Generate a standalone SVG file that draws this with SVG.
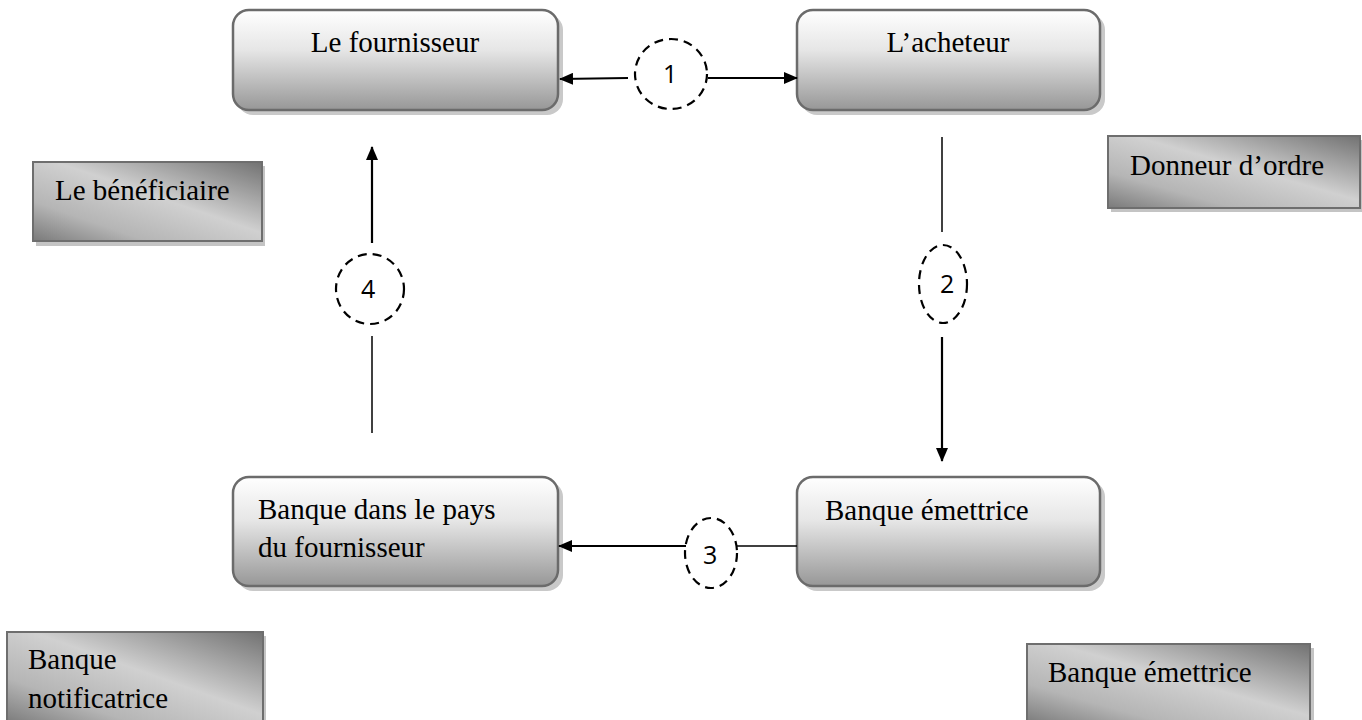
<svg xmlns="http://www.w3.org/2000/svg" width="1362" height="720" viewBox="0 0 1362 720">
<defs>
<linearGradient id="gRound" x1="0" y1="0" x2="0" y2="1">
<stop offset="0" stop-color="#ffffff"/>
<stop offset="0.4" stop-color="#e6e6e6"/>
<stop offset="1" stop-color="#979797"/>
</linearGradient>
<linearGradient id="gSquare" x1="1" y1="0" x2="0" y2="1">
<stop offset="0" stop-color="#727272"/>
<stop offset="0.45" stop-color="#d0d0d0"/>
<stop offset="0.75" stop-color="#b5b5b5"/>
<stop offset="1" stop-color="#7a7a7a"/>
</linearGradient>
<marker id="arrL" markerWidth="14" markerHeight="12" refX="13" refY="6" orient="auto" markerUnits="userSpaceOnUse">
<path d="M0,0 L14,6 L0,12 Z" fill="#000"/>
</marker>
</defs>
<style>
.rbox{fill:url(#gRound);stroke:#6b6b6b;stroke-width:2.5}
.rshadow{fill:#c9c9c9}
.sbox{fill:url(#gSquare);stroke:#6e6e6e;stroke-width:2}
.sshadow{fill:#c4c4c4}
.t{font-family:"Liberation Serif","Times New Roman",serif;font-size:29px;fill:#000}
.num{font-family:"Open Sans","Liberation Sans",sans-serif;font-size:25px;fill:#000}
.circ{fill:none;stroke:#000;stroke-width:2.2;stroke-dasharray:9,6}
.ln{stroke:#000;stroke-width:1.5;fill:none}
.la{stroke:#000;stroke-width:2.2;fill:none}
</style>
<rect width="1362" height="720" fill="#fff"/>

<g id="fournisseur">
<rect class="rshadow" x="237" y="14" width="326" height="101" rx="16"/>
<rect class="rbox" x="233" y="10" width="325" height="100" rx="16"/>
<text class="t" x="395" y="52" text-anchor="middle">Le fournisseur</text>
</g>
<g id="acheteur">
<rect class="rshadow" x="801" y="14" width="304" height="101" rx="16"/>
<rect class="rbox" x="797" y="10" width="303" height="100" rx="16"/>
<text class="t" x="948" y="52" text-anchor="middle">L’acheteur</text>
</g>
<g id="banque-emettrice">
<rect class="rshadow" x="801" y="481" width="304" height="110" rx="16"/>
<rect class="rbox" x="797" y="477" width="303" height="109" rx="16"/>
<text class="t" x="825" y="520">Banque émettrice</text>
</g>
<g id="banque-pays">
<rect class="rshadow" x="237" y="481" width="326" height="110" rx="16"/>
<rect class="rbox" x="233" y="477" width="325" height="109" rx="16"/>
<text class="t" x="258" y="519">Banque dans le pays</text>
<text class="t" x="258" y="557">du fournisseur</text>
</g>

<g id="beneficiaire">
<rect class="sshadow" x="36" y="166" width="229" height="80"/>
<rect class="sbox" x="33" y="162" width="229" height="79"/>
<text class="t" x="55" y="200">Le bénéficiaire</text>
</g>
<g id="donneur">
<rect class="sshadow" x="1111" y="140" width="252" height="72"/>
<rect class="sbox" x="1108" y="136" width="252" height="72"/>
<text class="t" x="1130" y="175">Donneur d’ordre</text>
</g>
<g id="notificatrice">
<rect class="sshadow" x="10" y="636" width="256" height="90"/>
<rect class="sbox" x="7" y="632" width="256" height="92"/>
<text class="t" x="28" y="669">Banque</text>
<text class="t" x="28" y="708">notificatrice</text>
</g>
<g id="emettrice-label">
<rect class="sshadow" x="1030" y="648" width="284" height="80"/>
<rect class="sbox" x="1027" y="644" width="283" height="80"/>
<text class="t" x="1048" y="682">Banque émettrice</text>
</g>

<g id="c1">
<ellipse class="circ" cx="671" cy="74" rx="36" ry="35"/>
<text class="num" x="663" y="83">1</text>
</g>
<g id="c2">
<ellipse class="circ" cx="943" cy="284" rx="24" ry="39"/>
<text class="num" x="940" y="293">2</text>
</g>
<g id="c3">
<ellipse class="circ" cx="711" cy="553" rx="26" ry="35"/>
<text class="num" x="703" y="564">3</text>
</g>
<g id="c4">
<ellipse class="circ" cx="370" cy="289" rx="34" ry="35"/>
<text class="num" x="361" y="298">4</text>
</g>

<g id="connectors">
<line class="la" x1="628" y1="78" x2="560" y2="79" marker-end="url(#arrL)"/>
<line class="la" x1="708" y1="78" x2="797" y2="78" marker-end="url(#arrL)"/>
<line class="ln" x1="942" y1="137" x2="942" y2="232"/>
<line class="la" x1="942" y1="337" x2="942" y2="461" marker-end="url(#arrL)"/>
<line class="ln" x1="797" y1="546" x2="737" y2="546"/>
<line class="la" x1="686" y1="546" x2="559" y2="546" marker-end="url(#arrL)"/>
<line class="ln" x1="372" y1="433" x2="372" y2="336"/>
<line class="la" x1="372" y1="243" x2="372" y2="147" marker-end="url(#arrL)"/>
</g>
</svg>
